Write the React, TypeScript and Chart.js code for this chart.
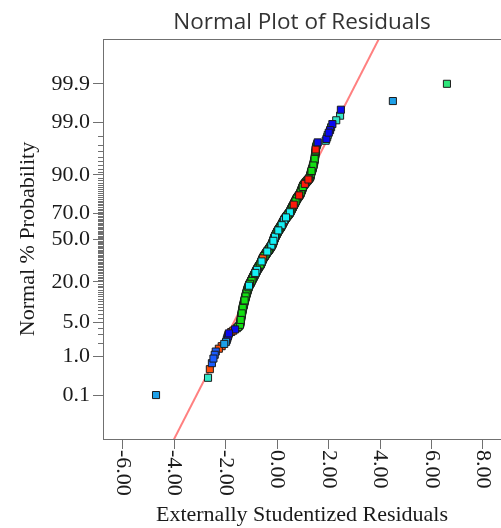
import React, { useEffect, useRef } from 'react';
import { Chart, registerables, LinearScale } from 'chart.js';

Chart.register(...registerables);

// ---------------- data (externally studentized residuals, grouped by point colour) ----------------
const greenResiduals = [
  -1.56, -1.51, -1.47, -1.44,
  -1.43, -1.42, -1.42, -1.41, -1.41, -1.40, -1.40, -1.39, -1.39, -1.38, -1.38, -1.37, -1.37, -1.36, -1.36, -1.35, -1.35, -1.34, -1.34, -1.33, -1.33, -1.32, -1.32, -1.31,
  -1.30, -1.30, -1.29, -1.29, -1.28, -1.28, -1.27, -1.27, -1.26, -1.26, -1.25, -1.25, -1.24, -1.24, -1.23, -1.23, -1.22, -1.22, -1.21, -1.21, -1.20, -1.20, -1.19, -1.19, -1.18, -1.18,
  -1.17, -1.17, -1.16, -1.16, -1.15, -1.15, -1.14, -1.14, -1.13, -1.13, -1.12, -1.12, -1.11, -1.10, -1.10, -1.09, -1.08, -1.08, -1.07, -1.06, -1.05,
  -1.04, -1.03, -1.03, -1.02, -1.01, -1.01, -1.00, -0.99, -0.99, -0.98, -0.97, -0.97, -0.96, -0.95, -0.95, -0.94, -0.93, -0.93, -0.92, -0.91, -0.91, -0.90, -0.89, -0.89,
  -0.88, -0.87, -0.87, -0.86, -0.85, -0.85, -0.84, -0.83, -0.83,
  -0.82, -0.81, -0.81, -0.80, -0.79, -0.79, -0.78, -0.77, -0.76, -0.76, -0.75, -0.74, -0.73, -0.73, -0.72, -0.71, -0.71, -0.70, -0.69, -0.69, -0.68, -0.67, -0.66,
  -0.65, -0.65, -0.64, -0.64, -0.63, -0.63, -0.62, -0.62, -0.61, -0.61, -0.60, -0.60, -0.59, -0.59, -0.58, -0.58, -0.57, -0.57, -0.56, -0.56, -0.55, -0.55, -0.54, -0.54, -0.53,
  -0.52, -0.51, -0.51, -0.50, -0.49, -0.49, -0.48, -0.47, -0.47, -0.46, -0.45, -0.45, -0.44, -0.43, -0.43, -0.42, -0.41, -0.41, -0.40, -0.39, -0.39, -0.38, -0.37, -0.36, -0.35, -0.34,
  -0.33, -0.32, -0.32, -0.31, -0.30, -0.30, -0.29, -0.29, -0.28, -0.27, -0.27, -0.26, -0.25, -0.25, -0.24, -0.23, -0.23, -0.22, -0.21,
  -0.20, -0.20, -0.19, -0.19, -0.19, -0.18, -0.18, -0.17, -0.17, -0.17, -0.16, -0.16, -0.15, -0.15, -0.15, -0.14, -0.14, -0.13, -0.13, -0.13, -0.12, -0.12, -0.11, -0.11, -0.11,
  -0.10, -0.10, -0.09, -0.09, -0.09, -0.08,
  -0.07, -0.07, -0.06, -0.06, -0.05, -0.05, -0.04, -0.04, -0.03, -0.03, -0.02, -0.02, -0.01, -0.01, 0.00, 0.00, 0.01, 0.01, 0.02, 0.02, 0.03, 0.03, 0.04, 0.04,
  0.06, 0.06, 0.07, 0.08, 0.08, 0.09, 0.10, 0.10, 0.11, 0.12, 0.12, 0.13, 0.14, 0.14, 0.15, 0.16, 0.16, 0.17, 0.17,
  0.19, 0.19, 0.20, 0.20, 0.21, 0.21, 0.22, 0.22, 0.23, 0.23, 0.24, 0.24, 0.26, 0.26, 0.27, 0.27, 0.28, 0.29, 0.29, 0.30, 0.30, 0.31,
  0.32, 0.33, 0.34, 0.35, 0.36, 0.37, 0.37, 0.38, 0.39, 0.40, 0.41, 0.42, 0.43, 0.44, 0.44, 0.45, 0.46, 0.47, 0.48, 0.49, 0.49,
  0.51, 0.51, 0.52, 0.52, 0.53, 0.54, 0.54, 0.55, 0.55, 0.56, 0.56, 0.57, 0.58, 0.58, 0.59, 0.59, 0.60, 0.61, 0.61, 0.62, 0.62, 0.63,
  0.64, 0.65, 0.66, 0.66, 0.67, 0.68, 0.68, 0.69, 0.70, 0.70, 0.71, 0.72, 0.72, 0.73, 0.74, 0.74, 0.75, 0.76, 0.76, 0.77,
  0.78, 0.79, 0.80, 0.81, 0.82, 0.83, 0.84, 0.85, 0.87, 0.88, 0.89,
  0.90, 0.90, 0.91, 0.92, 0.92, 0.93, 0.93, 0.94, 0.95, 0.95, 0.96, 0.96, 0.97, 0.98, 0.98, 0.99, 0.99, 1.00, 1.01, 1.01, 1.02,
  1.03, 1.05, 1.06, 1.09, 1.10, 1.12, 1.13, 1.15,
  1.17, 1.18, 1.20, 1.23, 1.25, 1.26, 1.28,
  1.29, 1.29, 1.30, 1.30, 1.31, 1.31, 1.32, 1.32, 1.33, 1.34, 1.34, 1.35,
  1.36, 1.37, 1.38, 1.39, 1.39, 1.40, 1.41,
  1.42, 1.42, 1.43, 1.44, 1.44, 1.45,
  1.46, 1.46, 1.47, 1.47, 1.48,
  1.48, 1.49, 1.49, 1.50, 1.50, 1.51,
  1.52, 1.54, 1.56,
];
const redResiduals = [-0.12, 0.25, 0.65, 0.86, 1.08, 1.22, 1.50];
const orangeResiduals = [-2.61, -2.26, -2.15, -1.89, -1.78, -1.70, -0.55];
const cyanResiduals = [-1.09, -0.84, -0.78, -0.60, -0.38, -0.22, -0.14, -0.08, 0.05, 0.18, 0.28, 0.35, 0.50];
const aquaResiduals = [-2.68, 1.89, 1.95, 1.97, 2.10, 2.30, 2.45];
const blueResiduals = [-1.91, -1.87, -1.63, 1.58, 1.92, 2.01, 2.06, 2.15, 2.48];
const royalResiduals = [-2.53, -2.47, -2.42, -2.38, -1.95, -1.93];
const skyResiduals = [-4.70, -2.05, -1.98, 4.50];
const springResiduals = [6.60];

// fitted reference line (residual at given normal %)
const fitLineResiduals = [-4.30, 4.24];
const fitLinePercents = [0.001, 99.999];

// axes
const xTickValues = [-6, -4, -2, 0, 2, 4, 6, 8];
const xTickLabels = ['-6.00', '-4.00', '-2.00', '0.00', '2.00', '4.00', '6.00', '8.00'];
const yTickPercents = [0.1, 1, 5, 20, 50, 70, 90, 99, 99.9];
const yTickLabels = ['0.1', '1.0', '5.0', '20.0', '50.0', '70.0', '90.0', '99.0', '99.9'];
const yMinorTickPercents = [
  2, 3, 4, 6, 7, 8, 9, 10, 11, 12, 13, 14, 15, 16, 17, 18, 19,
  21, 22, 23, 24, 25, 26, 27, 28, 29, 30, 31, 32, 33, 34, 35, 36, 37, 38, 39, 40, 41, 42, 43, 44, 45, 46, 47, 48, 49,
  51, 52, 53, 54, 55, 56, 57, 58, 59, 60, 61, 62, 63, 64, 65, 66, 67, 68, 69,
  71, 72, 73, 74, 75, 76, 77, 78, 79, 80, 81, 82, 83, 84, 85, 86, 87, 88, 89,
  91, 92, 93, 94, 95, 96, 97, 98,
];
const xAxisRange = [-6.76, 8.70];
const yAxisRangePercent = [0.0037, 99.99655];

const chartTitle = 'Normal Plot of Residuals';
const xAxisTitle = 'Externally Studentized Residuals';
const yAxisTitle = 'Normal % Probability';

// ---------------- styling ----------------
const AXIS_COLOR = '#707070';
const TEXT_COLOR = '#1a1a1a';
const SERIF = "'Liberation Serif', 'Times New Roman', serif";
const POINT_BORDER = '#1c1c1c';
const GOLDEN = 0.618034;

// inverse standard normal CDF (Acklam)
function normInv(p: number): number {
  const a = [-3.969683028665376e1, 2.209460984245205e2, -2.759285104469687e2, 1.38357751867269e2, -3.066479806614716e1, 2.506628277459239];
  const b = [-5.447609879822406e1, 1.615858368580409e2, -1.556989798598866e2, 6.680131188771972e1, -1.328068155288572e1];
  const c = [-7.784894002430293e-3, -3.223964580411365e-1, -2.400758277161838, -2.549732539343734, 4.374664141464968, 2.938163982698783];
  const d = [7.784695709041462e-3, 3.224671290700398e-1, 2.445134137142996, 3.754408661907416];
  const pl = 0.02425;
  if (p < pl) {
    const q = Math.sqrt(-2 * Math.log(p));
    return (((((c[0] * q + c[1]) * q + c[2]) * q + c[3]) * q + c[4]) * q + c[5]) / ((((d[0] * q + d[1]) * q + d[2]) * q + d[3]) * q + 1);
  }
  if (p > 1 - pl) {
    const q = Math.sqrt(-2 * Math.log(1 - p));
    return -(((((c[0] * q + c[1]) * q + c[2]) * q + c[3]) * q + c[4]) * q + c[5]) / ((((d[0] * q + d[1]) * q + d[2]) * q + d[3]) * q + 1);
  }
  const q = p - 0.5;
  const r = q * q;
  return ((((((a[0] * r + a[1]) * r + a[2]) * r + a[3]) * r + a[4]) * r + a[5]) * q) / (((((b[0] * r + b[1]) * r + b[2]) * r + b[3]) * r + b[4]) * r + 1);
}
function normCdf(z: number): number {
  const t = 1 / (1 + 0.2316419 * Math.abs(z));
  const dd = 0.3989423 * Math.exp((-z * z) / 2);
  const pr = dd * t * (0.3193815 + t * (-0.3565638 + t * (1.781478 + t * (-1.821256 + t * 1.330274))));
  return z > 0 ? 1 - pr : pr;
}

// probability (probit) scale: values in percent, laid out linearly in normal quantiles
class ProbitScale extends LinearScale {
  static id = 'probit';
  static defaults = {};
  determineDataLimits() {
    const o: any = this.options;
    (this as any).min = normInv(o.min / 100);
    (this as any).max = normInv(o.max / 100);
  }
  buildTicks() {
    return yTickPercents.map((v) => ({ value: v }));
  }
  getPixelForValue(value: number) {
    const s: any = this;
    return this.getPixelForDecimal((normInv(value / 100) - s.min) / (s.max - s.min));
  }
  getValueForPixel(pixel: number) {
    const s: any = this;
    const z = s.min + this.getDecimalForPixel(pixel) * (s.max - s.min);
    return normCdf(z) * 100;
  }
}
Chart.register(ProbitScale as any);

function gcd(a: number, b: number): number {
  return b === 0 ? a : gcd(b, a % b);
}

// drawing order only (values untouched): interleave ranks so overlapping squares stack like run order
function interleave<T>(pts: T[]): T[] {
  const n = pts.length;
  if (n < 3) return pts;
  let g = Math.round(n * GOLDEN);
  while (gcd(g, n) !== 1) g++;
  return pts
    .map((p, r) => ({ p, t: (r * g) % n }))
    .sort((a, b) => a.t - b.t)
    .map((o) => o.p);
}

const decorPlugin = {
  id: 'probitDecor',
  afterDraw(chart: any) {
    const { ctx, chartArea, scales } = chart;
    const ys = scales.y;
    const xs = scales.x;
    ctx.save();
    ctx.strokeStyle = AXIS_COLOR;
    ctx.lineWidth = 1;
    ctx.beginPath();
    ctx.moveTo(chartArea.left, Math.round(chartArea.top) + 0.5);
    ctx.lineTo(chartArea.right, Math.round(chartArea.top) + 0.5);
    ctx.stroke();
    ctx.beginPath();
    for (const p of yMinorTickPercents) {
      const py = Math.round(ys.getPixelForValue(p)) + 0.5;
      ctx.moveTo(chartArea.left - 5, py);
      ctx.lineTo(chartArea.left, py);
    }
    ctx.stroke();
    ctx.fillStyle = TEXT_COLOR;
    ctx.font = `22px ${SERIF}`;
    ctx.textAlign = 'left';
    ctx.textBaseline = 'middle';
    xTickValues.forEach((v, i) => {
      const px = xs.getPixelForValue(v);
      ctx.save();
      ctx.translate(px, chartArea.bottom + 11);
      ctx.rotate(Math.PI / 2);
      ctx.fillText(xTickLabels[i], 0, 0);
      ctx.restore();
    });
    ctx.restore();
  },
};

export default function App() {
  const ref = useRef<HTMLCanvasElement>(null);
  useEffect(() => {
    document.body.style.margin = '0';
    const canvas = ref.current;
    if (!canvas) return;

    const groups = [
      { values: greenResiduals, color: '#12E012', order: 60 },
      { values: redResiduals, color: '#FF1A0A', order: 50 },
      { values: orangeResiduals, color: '#FF4E0A', order: 45 },
      { values: cyanResiduals, color: '#14F0F5', order: 40 },
      { values: aquaResiduals, color: '#33E8C8', order: 35 },
      { values: royalResiduals, color: '#1A5CFF', order: 30 },
      { values: blueResiduals, color: '#0A0AF0', order: 25 },
      { values: skyResiduals, color: '#1EA0E8', order: 20 },
      { values: springResiduals, color: '#2EE67A', order: 15 },
    ];
    const all: { v: number; g: number }[] = [];
    groups.forEach((g, gi) => g.values.forEach((v) => all.push({ v, g: gi })));
    all.sort((a, b) => a.v - b.v);
    const N = all.length;
    const byGroup: { x: number; y: number }[][] = groups.map(() => []);
    all.forEach((pt, rank) => byGroup[pt.g].push({ x: pt.v, y: ((rank + 0.5) / N) * 100 }));

    const datasets: any[] = groups.map((g, gi) => ({
      data: interleave(byGroup[gi]),
      backgroundColor: g.color,
      borderColor: POINT_BORDER,
      borderWidth: 1,
      pointStyle: 'rect',
      pointRadius: 5,
      order: g.order,
    }));
    datasets.push({
      data: fitLineResiduals.map((x, i) => ({ x, y: fitLinePercents[i] })),
      showLine: true,
      borderColor: '#FF8080',
      borderWidth: 2,
      pointRadius: 0,
      order: 100,
    });

    const chart = new Chart(canvas, {
      type: 'scatter',
      data: { datasets },
      plugins: [decorPlugin],
      options: {
        responsive: false,
        animation: false,
        devicePixelRatio: 1,
        events: [],
        layout: { padding: 0, autoPadding: false },
        plugins: {
          legend: { display: false },
          tooltip: { enabled: false },
          title: {
            display: true,
            text: chartTitle,
            fullSize: false,
            color: '#333333',
            font: { family: "'Open Sans', 'Noto Sans', sans-serif", size: 22.5, weight: 'normal' },
            padding: { top: 9, bottom: 3 },
          },
        },
        scales: {
          x: {
            type: 'linear',
            position: 'bottom',
            min: xAxisRange[0],
            max: xAxisRange[1],
            afterBuildTicks: (s: any) => {
              s.ticks = xTickValues.map((v) => ({ value: v }));
            },
            afterFit: (s: any) => {
              s.height = 89;
            },
            ticks: { display: false },
            grid: { display: true, drawOnChartArea: false, drawTicks: true, tickLength: 10, color: AXIS_COLOR, lineWidth: 1 },
            border: { display: true, color: AXIS_COLOR, width: 1 },
            title: {
              display: true,
              text: xAxisTitle,
              color: TEXT_COLOR,
              font: { family: SERIF, size: 22 },
              padding: { top: 0, bottom: 0 },
            },
          },
          y: {
            type: 'probit' as any,
            position: 'left',
            min: yAxisRangePercent[0],
            max: yAxisRangePercent[1],
            afterFit: (s: any) => {
              s.width = 103;
            },
            ticks: {
              display: true,
              autoSkip: false,
              padding: 3,
              color: TEXT_COLOR,
              font: { family: SERIF, size: 22 },
              callback: (_v: any, i: number) => yTickLabels[i],
            },
            grid: { display: true, drawOnChartArea: false, drawTicks: true, tickLength: 10, color: AXIS_COLOR, lineWidth: 1 },
            border: { display: true, color: AXIS_COLOR, width: 1 },
            title: {
              display: true,
              text: yAxisTitle,
              color: TEXT_COLOR,
              font: { family: SERIF, size: 22 },
              padding: { top: 15, bottom: 0 },
            },
          },
        },
      } as any,
    });
    return () => chart.destroy();
  }, []);

  return <canvas ref={ref} width={501} height={528} style={{ display: 'block', width: '501px', height: '528px' }} />;
}
